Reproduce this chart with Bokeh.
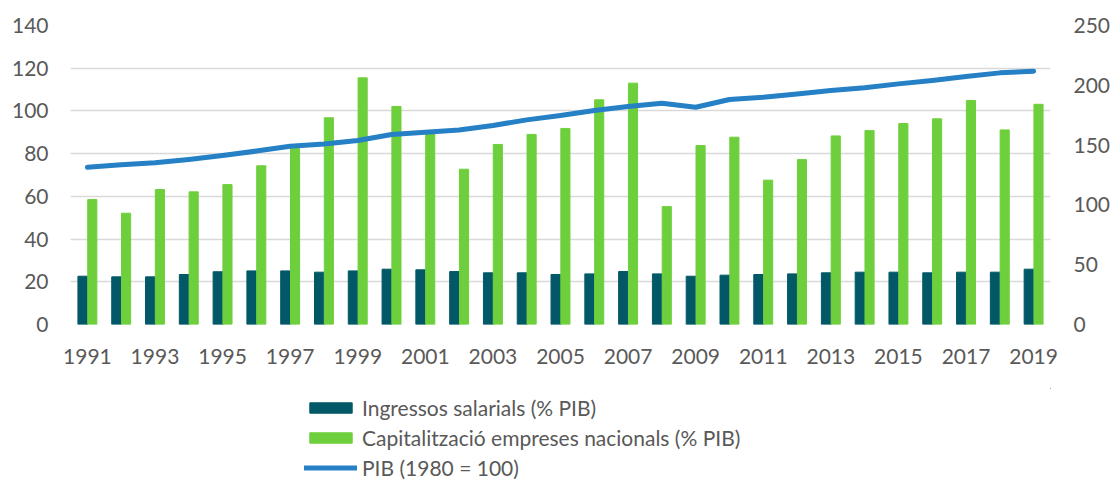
from bokeh.plotting import figure
from bokeh.models import (LinearAxis, Range1d, FixedTicker, Legend, LegendItem,
                          ColumnDataSource)
from bokeh.layouts import column
from bokeh.transform import dodge
from bokeh.embed import file_html
from bokeh.resources import INLINE

years = list(range(1991, 2020))
salaris = [22.6, 22.3, 22.3, 23.4, 24.7, 25.1, 25.1, 24.5, 25.1, 25.9,
           25.6, 24.8, 24.2, 24.2, 23.4, 23.7, 24.8, 23.7, 22.6, 23.1,
           23.4, 23.7, 24.2, 24.5, 24.5, 24.2, 24.5, 24.5, 25.9]
capitalitzacio = [58.5, 52.1, 63.2, 62.1, 65.5, 74.3, 82.5, 96.8, 115.5, 102.1,
                  89.5, 72.7, 84.3, 89.0, 91.8, 105.2, 113.0, 55.2, 83.8, 87.7,
                  67.6, 77.2, 88.3, 90.8, 94.1, 96.3, 104.9, 91.1, 103.1]
pib = [131.5, 133.5, 135.2, 138.0, 141.3, 145.0, 149.0, 151.0, 153.8, 158.8,
       160.8, 162.7, 166.4, 171.1, 174.7, 178.9, 182.2, 185.0, 181.7, 188.1,
       190.0, 192.8, 195.6, 197.9, 201.2, 204.0, 207.3, 210.4, 211.8]
label_years = years[::2]

names = ["Ingressos salarials (% PIB)", "Capitalització empreses nacionals (% PIB)",
         "PIB (1980 = 100)"]

FONT = "Lato"
FS = "21px"
TXT = "#595959"
DARK = "#035868"
GREEN = "#6ECF3D"
BLUE = "#2580C5"

src = ColumnDataSource(dict(x=years, s=salaris, c=capitalitzacio, p=pib))

p = figure(width=1113, height=388, output_backend="svg", toolbar_location=None,
           x_range=Range1d(1990.5, 2019.5), y_range=Range1d(0, 140),
           min_border_left=70, min_border_right=60, min_border_top=25,
           min_border_bottom=64)
p.outline_line_color = None
p.extra_y_ranges = {"pib": Range1d(0, 250)}

p.vbar(x=dodge("x", -0.135, range=p.x_range), top="s", width=0.29,
       source=src, color=DARK)
p.vbar(x=dodge("x", 0.145, range=p.x_range), top="c", width=0.27,
       source=src, color=GREEN)
p.line(x="x", y="p", source=src, y_range_name="pib", line_color=BLUE,
       line_width=5, line_cap="round", line_join="round")

p.xgrid.visible = False
p.ygrid.grid_line_color = "#D9D9D9"
p.ygrid.grid_line_width = 1.5
p.yaxis.ticker = FixedTicker(ticks=list(range(0, 141, 20)))
p.ygrid.ticker = FixedTicker(ticks=list(range(0, 141, 20)))

ax2 = LinearAxis(y_range_name="pib", ticker=FixedTicker(ticks=list(range(0, 251, 50))))
p.add_layout(ax2, "right")

p.xaxis.ticker = FixedTicker(ticks=label_years)
for ax in [p.xaxis[0], p.yaxis[0], ax2]:
    ax.axis_line_color = None
    ax.major_tick_line_color = None
    ax.minor_tick_line_color = None
    ax.major_tick_out = 0
    ax.minor_tick_out = 0
    ax.major_label_text_font = FONT
    ax.major_label_text_font_size = FS
    ax.major_label_text_color = TXT
p.yaxis.major_label_standoff = 22
p.xaxis.major_label_standoff = 24
ax2.major_label_standoff = 23

# legend in a separate strip below the chart
lg = figure(width=1113, height=93, output_backend="svg", toolbar_location=None,
            x_range=Range1d(0, 1), y_range=Range1d(0, 1),
            x_axis_location=None, y_axis_location=None,
            min_border_left=0, min_border_right=0, min_border_top=0,
            min_border_bottom=0)
lg.grid.visible = False
lg.outline_line_color = None
offscreen = ColumnDataSource(dict(x=[5, 6], y=[5, 5]))
g1 = lg.vbar(x="x", top="y", bottom=4, width=0.1, source=offscreen, color=DARK)
g2 = lg.vbar(x="x", top="y", bottom=4, width=0.1, source=offscreen, color=GREEN)
g3 = lg.line(x="x", y="y", source=offscreen, line_color=BLUE, line_width=5,
             line_cap="round")

legend = Legend(items=[LegendItem(label=names[0], renderers=[g1]),
                       LegendItem(label=names[1], renderers=[g2]),
                       LegendItem(label=names[2], renderers=[g3])],
                location=(234, 1), orientation="vertical",
                glyph_width=53, glyph_height=13, label_height=13,
                spacing=5, padding=0, margin=0, label_standoff=5,
                label_text_font=FONT, label_text_font_size=FS,
                label_text_color=TXT, border_line_color=None,
                background_fill_alpha=0)
lg.add_layout(legend, "center")

layout = column(p, lg, spacing=0)
open("out.html", "w").write(file_html(layout, INLINE))
